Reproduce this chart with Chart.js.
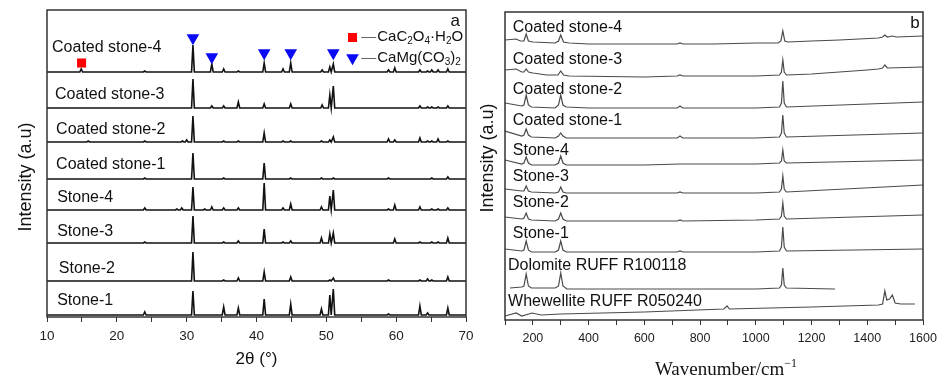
<!DOCTYPE html>
<html>
<head>
<meta charset="utf-8">
<script src="https://cdn.jsdelivr.net/npm/chart.js@4.4.1/dist/chart.umd.min.js"></script>
<style>
  html, body { margin: 0; padding: 0; background: #fff; }
  #wrap { position: relative; width: 944px; height: 383px; background: #fff; }
  #xrd { position: absolute; left: 0; top: 0; }
  #raman { position: absolute; left: 470px; top: 0; }
</style>
</head>
<body>
<div id="wrap">
  <canvas id="xrd" width="480" height="383"></canvas>
  <canvas id="raman" width="474" height="383"></canvas>
</div>
<script>
// ---- panel a : XRD, peaks as [2θ, height above the pattern's baseline] ----
const xrdNames = ["Coated stone-4", "Coated stone-3", "Coated stone-2", "Coated stone-1",
                  "Stone-4", "Stone-3", "Stone-2", "Stone-1"];
const xrdOffsets = [245, 209, 175, 138, 107, 74, 36, 2];

const xrdCoated4 = [[14.9,3],[24.0,1],[30.9,27],[33.6,8],[35.3,3],[37.4,1],[41.1,9],[43.8,3],[44.9,9],
                    [49.4,2],[50.5,5],[51.0,8],[58.9,2],[59.8,4],[63.4,2],[64.5,1],[65.1,2],[66.0,2],[67.4,3]];
const xrdCoated3 = [[30.9,29],[33.6,2],[35.3,2],[37.4,6],[41.1,4],[44.9,4],[49.4,3],[50.5,13],[51.0,22],
                    [63.4,2],[64.5,1],[65.1,1],[66.0,1],[67.4,2]];
const xrdCoated2 = [[15.9,1],[24.0,1],[29.4,1],[30.0,2],[30.9,26],[35.3,1],[37.4,1],[41.1,9],[43.8,1],[44.9,1],
                    [49.3,1],[50.5,2],[51.0,5],[58.9,3],[59.8,2],[63.4,4],[64.5,1],[65.1,1],[66.0,3],[67.4,1]];
const xrdCoated1 = [[24.0,1],[30.9,26],[35.3,1],[41.1,16],[44.9,1],[49.3,1],[51.0,1],[58.9,1],[65.1,1],[67.4,2]];
const xrdStone4 = [[24.0,2],[28.6,1],[29.3,2],[30.9,23],[32.6,1],[33.6,3],[35.3,2],[37.4,2],[41.1,27],[43.8,2],
                   [44.9,6],[49.3,3],[50.5,14],[51.0,20],[58.9,1],[59.8,5],[63.4,3],[65.1,1],[66.0,1],[67.4,2]];
const xrdStone3 = [[24.0,1],[30.9,27],[35.3,1],[37.4,2],[41.1,14],[43.8,1],[44.9,2],[49.3,5],[50.5,9],[51.0,10],
                   [59.8,4],[63.4,1],[65.1,1],[66.0,1],[67.4,5]];
const xrdStone2 = [[30.9,29],[35.3,1],[37.4,3],[41.1,9],[44.9,4],[50.5,1],[51.0,3],[58.9,1],[63.4,1],[64.5,2],
                   [65.1,1],[67.4,4]];
const xrdStone1 = [[24.0,3],[30.9,24],[35.3,8],[37.4,7],[41.1,16],[44.9,11],[49.3,6],[50.5,20],[51.0,26],
                   [58.9,1],[63.4,9],[64.5,2],[67.4,7]];
const xrdSeries = [xrdCoated4, xrdCoated3, xrdCoated2, xrdCoated1, xrdStone4, xrdStone3, xrdStone2, xrdStone1];

// phase markers (2θ, height)
const oxalateMarks = [[14.95, 254]];
const dolomiteMarks = [[30.9, 279], [33.6, 260], [41.1, 264], [44.9, 264], [51.0, 264]];
const xrdTicks = [10, 20, 30, 40, 50, 60, 70];

// ---- panel b : Raman, [wavenumber, intensity relative to trace] ----
const ramanNames = ["Coated stone-4", "Coated stone-3", "Coated stone-2", "Coated stone-1",
                    "Stone-4", "Stone-3", "Stone-2", "Stone-1",
                    "Dolomite RUFF R100118", "Whewellite RUFF R050240"];
const ramanOffsets = [277, 244, 212, 182, 156, 127, 100, 68, 31, 12];

const ramanCoated4 = [[100,3],[140,4],[155,2],[168,2],[176,9],[184,2],[200,1],[280,0],[292,2],[300,8],[310,1],
  [330,0],[400,-1],[600,-1],[718,-1],[728,0],[738,-1],[850,-1],[1000,0],[1080,0],[1090,2],[1097,12],[1104,2],
  [1115,1],[1200,2],[1300,3],[1440,5],[1455,6],[1463,8],[1472,6],[1490,7],[1505,6],[1600,7]];
const ramanCoated3 = [[100,6],[140,7],[160,4],[168,4],[176,7],[184,4],[200,3],[250,1],[290,1],[300,5],[310,1],
  [330,0],[600,-1],[718,0],[728,1],[738,0],[900,0],[1000,0],[1085,1],[1092,4],[1097,16],[1102,4],[1110,1],
  [1200,2],[1400,6],[1440,7],[1455,8],[1463,11],[1472,8],[1600,9]];
const ramanCoated2 = [[100,5],[160,2],[168,3],[176,13],[184,3],[195,1],[280,0],[292,3],[300,13],[308,3],[320,1],
  [400,0],[600,0],[718,0],[728,2],[738,0],[1000,0],[1085,1],[1092,5],[1097,27],[1102,5],[1110,1],[1600,6]];
const ramanCoated1 = [[100,7],[160,2],[168,3],[176,9],[184,3],[195,1],[280,0],[292,2],[300,5],[308,2],[320,0],
  [600,0],[718,0],[728,2],[738,0],[1000,0],[1085,1],[1092,5],[1097,23],[1102,5],[1110,1],[1600,5]];
const ramanStone4 = [[100,4],[160,0],[168,1],[176,7],[184,1],[195,-1],[280,-1],[292,1],[300,8],[308,1],[320,-1],
  [600,-1],[728,0],[1000,0],[1085,1],[1092,3],[1097,14],[1102,3],[1110,1],[1600,4]];
const ramanStone3 = [[100,4],[160,2],[168,2],[176,7],[184,2],[195,1],[280,0],[292,1],[300,6],[308,1],[320,0],
  [600,0],[718,0],[728,1],[738,0],[1000,0],[1085,1],[1092,4],[1097,17],[1102,4],[1110,1],[1600,8]];
const ramanStone2 = [[100,3],[160,1],[168,2],[176,7],[184,1],[195,0],[280,-1],[292,1],[300,7],[308,1],[320,-1],
  [600,-1],[718,-1],[728,0],[738,-1],[1000,0],[1085,1],[1092,4],[1097,17],[1102,4],[1110,1],[1600,5]];
const ramanStone1 = [[100,3],[160,1],[168,2],[176,11],[184,2],[195,0],[280,0],[292,2],[300,11],[308,2],[320,0],
  [600,0],[718,0],[728,1],[738,0],[1000,0],[1085,1],[1092,5],[1097,25],[1102,5],[1110,1],[1600,3]];
const ramanDolomite = [[118,1],[160,2],[168,3],[176,15],[184,3],[195,1],[280,1],[292,3],[300,16],[308,3],[322,0],
  [600,0],[1000,0],[1085,1],[1092,4],[1097,21],[1102,4],[1110,1],[1284,0]];
const ramanWhewellite = [[100,-8],[140,-5],[160,-8],[197,-5],[230,-7],[300,-6],[600,-4],[885,-1],[897,2],[905,-1],
  [1200,1],[1440,3],[1455,4],[1463,17],[1470,8],[1480,9],[1490,13],[1500,5],[1520,4],[1571,4]];
const ramanSeries = [ramanCoated4, ramanCoated3, ramanCoated2, ramanCoated1, ramanStone4, ramanStone3,
                     ramanStone2, ramanStone1, ramanDolomite, ramanWhewellite];

Chart.defaults.font.family = "Arial, 'Liberation Sans', sans-serif";
Chart.defaults.color = '#111';

const SANS = "Arial, 'Liberation Sans', sans-serif";

// peak list -> polyline on the pattern's baseline
const peakLine = (peaks, base) => {
  const pts = [{x: 10, y: base}];
  peaks.forEach(([p, h]) => {
    pts.push({x: p - 0.2, y: base}, {x: p, y: base + h}, {x: p + 0.2, y: base});
  });
  pts.push({x: 70, y: base});
  return pts;
};

const frame = {
  id: 'frame',
  afterDraw(chart) {
    const {ctx, chartArea: a} = chart;
    ctx.save();
    ctx.strokeStyle = '#333';
    ctx.lineWidth = 1.5;
    ctx.strokeRect(a.left, a.top, a.right - a.left, a.bottom - a.top);
    ctx.restore();
  }
};

// text made of runs: [text, 'n' | 'sub' | 'sup']
const runText = (ctx, x, y, runs, size, family, align) => {
  const small = Math.round(size * 0.65);
  const font = k => (k === 'n' ? size : small) + 'px ' + family;
  let w = 0;
  runs.forEach(([t, k]) => { ctx.font = font(k); w += ctx.measureText(t).width; });
  let cx = align === 'center' ? x - w / 2 : x;
  ctx.textAlign = 'left';
  ctx.textBaseline = 'middle';
  runs.forEach(([t, k]) => {
    ctx.font = font(k);
    const dy = k === 'sub' ? size * 0.3 : k === 'sup' ? -size * 0.35 : 0;
    ctx.fillText(t, cx, y + dy);
    cx += ctx.measureText(t).width;
  });
};

const yTitle = (ctx, x, y) => {
  ctx.save();
  ctx.translate(x, y);
  ctx.rotate(-Math.PI / 2);
  ctx.font = '18px ' + SANS;
  ctx.fillStyle = '#111';
  ctx.textAlign = 'center';
  ctx.textBaseline = 'middle';
  ctx.fillText('Intensity (a.u)', 0, 0);
  ctx.restore();
};

const xrdText = {
  id: 'xrdText',
  afterDatasetsDraw(chart) {
    const {ctx, scales: {x, y}} = chart;
    ctx.save();
    ctx.fillStyle = '#111';
    ctx.font = '16px ' + SANS;
    ctx.textBaseline = 'middle';
    const spots = [[10.72, 269], [11.15, 222], [11.3, 187], [11.3, 152], [11.45, 119], [11.45, 85], [11.7, 48], [11.45, 16]];
    xrdNames.forEach((n, i) => ctx.fillText(n, x.getPixelForValue(spots[i][0]), y.getPixelForValue(spots[i][1])));
    // legend text
    const lx = x.getPixelForValue(55.0);
    ctx.strokeStyle = '#666';
    ctx.lineWidth = 1;
    [[280, [['CaC', 'n'], ['2', 'sub'], ['O', 'n'], ['4', 'sub'], ['·H', 'n'], ['2', 'sub'], ['O', 'n']]],
     [259, [['CaMg(CO', 'n'], ['3', 'sub'], [')', 'n'], ['2', 'sub']]]].forEach(([v, runs]) => {
      const py = y.getPixelForValue(v);
      ctx.beginPath();
      ctx.moveTo(lx, py + 0.5);
      ctx.lineTo(lx + 15, py + 0.5);
      ctx.stroke();
      runText(ctx, lx + 16, py, runs, 15, SANS, 'left');
    });
    ctx.font = '17px ' + SANS;
    ctx.textAlign = 'center';
    ctx.fillText('a', x.getPixelForValue(68.45), y.getPixelForValue(296));
    ctx.restore();
    yTitle(ctx, 26, 177);
  }
};

const xrdDatasets = xrdSeries.map((peaks, i) => ({
  type: 'line',
  label: xrdNames[i],
  data: peakLine(peaks, xrdOffsets[i]),
  borderColor: '#111',
  borderWidth: 1.6,
  pointRadius: 0,
  tension: 0,
  order: 2
}));
xrdDatasets.push({
  type: 'scatter',
  label: 'CaC2O4·H2O',
  data: oxalateMarks.concat([[53.75, 279.5]]).map(([a, b]) => ({x: a, y: b})),
  pointStyle: 'rect',
  pointRadius: 6.4,
  backgroundColor: '#f00',
  borderWidth: 0,
  order: 1
}, {
  type: 'scatter',
  label: 'CaMg(CO3)2',
  data: dolomiteMarks.concat([[53.75, 259]]).map(([a, b]) => ({x: a, y: b})),
  pointStyle: 'triangle',
  rotation: 180,
  pointRadius: 7.3,
  backgroundColor: '#0a0af5',
  borderWidth: 0,
  order: 1
});

new Chart(document.getElementById('xrd'), {
  data: {datasets: xrdDatasets},
  options: {
    responsive: false,
    animation: false,
    layout: {padding: {left: 47, right: 14, top: 10, bottom: 0}},
    plugins: {legend: {display: false}, tooltip: {enabled: false}},
    scales: {
      x: {
        type: 'linear', min: 10, max: 70,
        afterFit: s => { s.height = 66; },
        ticks: {
          stepSize: 5, font: {size: 13.5}, color: '#222', padding: 6, maxRotation: 0, autoSkip: false,
          callback: v => (xrdTicks.includes(v) ? v : '')
        },
        grid: {display: true, drawOnChartArea: false, drawTicks: true, tickLength: 5, color: '#333'},
        border: {display: false},
        title: {display: true, text: '2θ (°)', font: {size: 17}, color: '#111', padding: {top: 0, bottom: 13}}
      },
      y: {type: 'linear', min: 0, max: 307, display: false}
    }
  },
  plugins: [frame, xrdText]
});

// ---- Raman chart ----
const ramanText = {
  id: 'ramanText',
  afterDatasetsDraw(chart) {
    const {ctx, scales: {x, y}} = chart;
    ctx.save();
    ctx.fillStyle = '#111';
    ctx.font = '16px ' + SANS;
    ctx.textBaseline = 'middle';
    const spots = [[128, 292], [128, 260], [128, 230], [128, 199], [128, 169], [128, 143], [128, 117], [128, 86], [111, 54], [111, 18]];
    ramanNames.forEach((n, i) => ctx.fillText(n, x.getPixelForValue(spots[i][0]), y.getPixelForValue(spots[i][1])));
    ctx.font = '17px ' + SANS;
    ctx.textAlign = 'center';
    ctx.fillText('b', x.getPixelForValue(1571), y.getPixelForValue(297));
    runText(ctx, 256, 370, [['Wavenumber/cm', 'n'], ['\u22121', 'sup']], 19,
            "'Liberation Serif', 'Times New Roman', serif", 'center');
    ctx.restore();
    yTitle(ctx, 18, 158);
  }
};

new Chart(document.getElementById('raman'), {
  type: 'line',
  data: {
    datasets: ramanSeries.map((pts, i) => ({
      label: ramanNames[i],
      data: pts.map(([w, v]) => ({x: w, y: ramanOffsets[i] + v})),
      borderColor: '#4a4a4a',
      borderWidth: 1.2,
      pointRadius: 0,
      tension: 0
    }))
  },
  options: {
    responsive: false,
    animation: false,
    layout: {padding: {left: 35, right: 21, top: 12, bottom: 0}},
    plugins: {legend: {display: false}, tooltip: {enabled: false}},
    scales: {
      x: {
        type: 'linear', min: 100, max: 1600,
        afterFit: s => { s.height = 63; },
        ticks: {
          stepSize: 100, font: {size: 12.5}, color: '#222', padding: 6, maxRotation: 0, autoSkip: false,
          callback: v => (v % 200 === 0 ? v : '')
        },
        grid: {display: true, drawOnChartArea: false, drawTicks: true, tickLength: 5, color: '#333'},
        border: {display: false},
        title: {display: false}
      },
      y: {type: 'linear', min: 0, max: 308, display: false}
    }
  },
  plugins: [frame, ramanText]
});
</script>
</body>
</html>
